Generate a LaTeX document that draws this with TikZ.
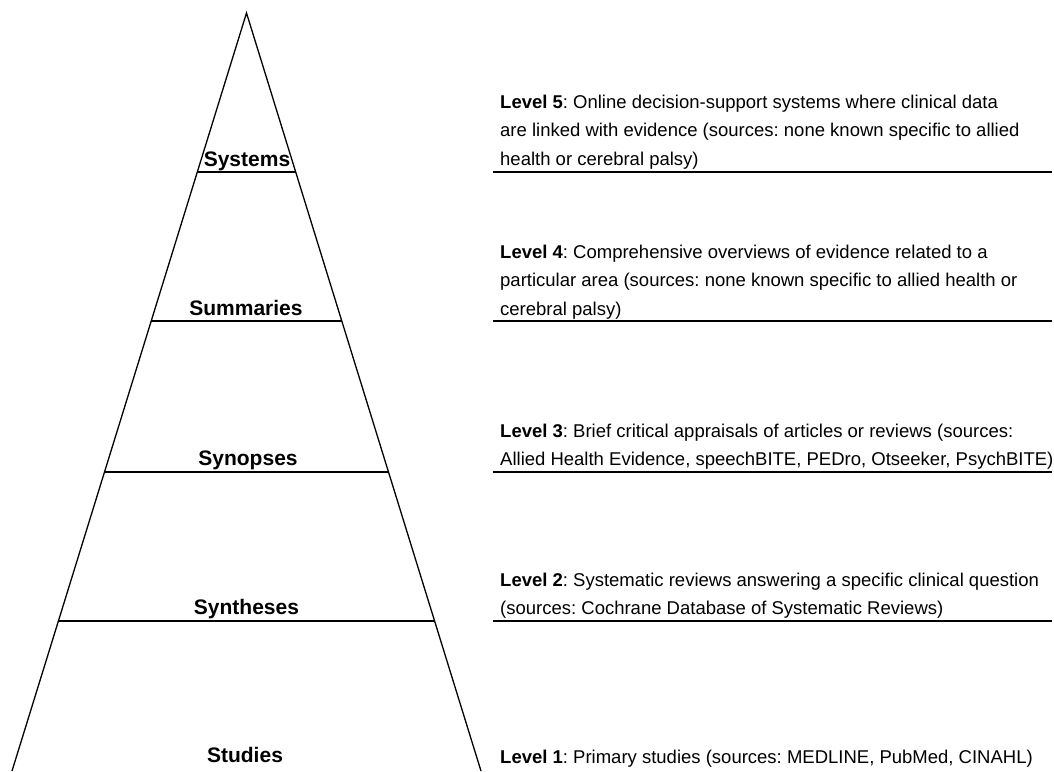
\documentclass[tikz,border=0pt]{standalone}
\usepackage{fontspec}
\setmainfont{Liberation Sans}
\usetikzlibrary{calc}
\frenchspacing
\begin{document}
\begin{tikzpicture}[x=1pt,y=-1pt,
  edge/.style={line width=1.3pt,black},
  tier/.style={line width=1.3pt,black},
  lvl/.style={inner sep=0pt,anchor=base,font=\fontsize{21}{25}\selectfont\bfseries},
  desc/.style={inner sep=0pt,anchor=base west,align=left,font=\frenchspacing\fontsize{18.5}{28.5}\selectfont}]
\useasboundingbox (0,0) rectangle (1054,771);
% pyramid
\coordinate (apex) at (246.5,13);
\coordinate (bl) at (12,771);
\coordinate (br) at (481,771);
\draw[edge] (bl) -- (apex) -- (br);
% tier boundaries
\foreach \n/\t in {a/0.2098,b/0.4063,c/0.6055,d/0.8021}{
  \coordinate (L\n) at ($(apex)!\t!(bl)$);
  \coordinate (R\n) at ($(apex)!\t!(br)$);
  \draw[tier] (L\n) -- (R\n);
}
% right underlines
\foreach \n/\y in {a/172,b/321,c/472,d/621}{
  \coordinate (U\n) at (493,\y);
  \coordinate (V\n) at (1052,\y);
  \draw[tier] (U\n) -- (V\n);
}
% level labels
\node[lvl] (systems) at (247,166) {Systems};
\node[lvl] (summaries) at (246,315) {Summaries};
\node[lvl] (synopses) at (248,465) {Synopses};
\node[lvl] (syntheses) at (246.5,614) {Syntheses};
\node[lvl] (studies) at (245,762) {Studies};
% descriptions
\node[desc] (d5) at (500,165) {\textbf{Level 5}: Online decision-support systems where clinical data\\are linked with evidence (sources: none known specific to allied\\health or cerebral palsy)};
\node[desc] (d4) at (500,315) {\textbf{Level 4}: Comprehensive overviews of evidence related to a\\particular area (sources: none known specific to allied health or\\cerebral palsy)};
\node[desc] (d3) at (500,465.5) {\textbf{Level 3}: Brief critical appraisals of articles or reviews (sources:\\Allied Health Evidence, speechBITE, PEDro, Otseeker, PsychBITE)};
\node[desc] (d2) at (500,614.5) {\textbf{Level 2}: Systematic reviews answering a specific clinical question\\(sources: Cochrane Database of Systematic Reviews)};
\node[desc] (d1) at (500,763) {\textbf{Level 1}: Primary studies (sources: MEDLINE, PubMed, CINAHL)};
\end{tikzpicture}
\end{document}
